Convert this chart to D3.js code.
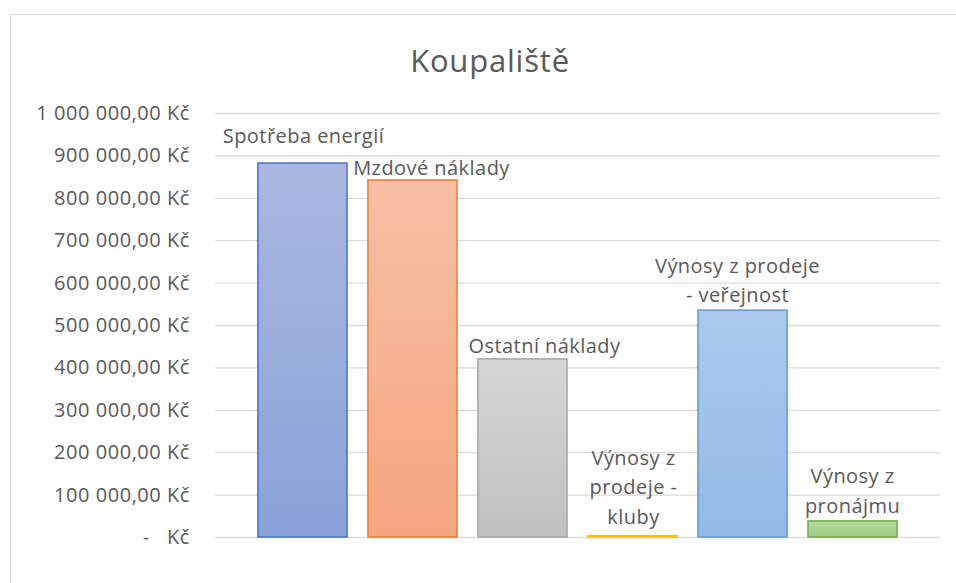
<!DOCTYPE html>
<html>
<head>
<meta charset="utf-8">
<script src="https://cdn.jsdelivr.net/npm/d3@7"></script>
<style>
  body { margin: 0; background: #fff; }
  text { font-family: "Open Sans", sans-serif; fill: #595959; }
</style>
</head>
<body>
<div id="chart"></div>
<script>
var width = 956,
    height = 583,
    margin = {top: 113, bottom: 46, left: 215, right: 16};

var categories = ["Spotřeba energií", "Mzdové náklady", "Ostatní náklady",
                  "Výnosy z prodeje - kluby", "Výnosy z prodeje - veřejnost", "Výnosy z pronájmu"];
var values = [882000, 842000, 420000, 3000, 535000, 38000];
var yTicks = [0, 100000, 200000, 300000, 400000, 500000, 600000, 700000, 800000, 900000, 1000000];

// excel-like gradient fills: [top, bottom, border]
var colors = [
  ["#aab8e1", "#8aa2d8", "#4472c4"],
  ["#f7bfa6", "#f4a67f", "#ed7d31"],
  ["#d6d6d6", "#c0c0c0", "#a5a5a5"],
  ["#ffd24d", "#ffc000", "#ffc000"],
  ["#abcaed", "#93bae6", "#5b9bd5"],
  ["#b4d89e", "#a2cd86", "#70ad47"]
];

// manual label placement (line breaks, offset from bar top centre)
var labelLayout = [
  {lines: ["Spotřeba energií"], dx: 1, dy: -20},
  {lines: ["Mzdové náklady"], dx: 19, dy: -5},
  {lines: ["Ostatní náklady"], dx: 22, dy: -6},
  {lines: ["Výnosy z", "prodeje -", "kluby"], dx: 1, dy: -12},
  {lines: ["Výnosy z prodeje", "- veřejnost"], dx: -5, dy: -8},
  {lines: ["Výnosy z", "pronájmu"], dx: 0, dy: -8}
];

var svg = d3.select("#chart").append("svg")
    .attr("width", width)
    .attr("height", height);

// chart frame
svg.append("rect")
    .attr("x", 10.5).attr("y", 14.5)
    .attr("width", width).attr("height", height)
    .attr("fill", "none")
    .attr("stroke", "#d9d9d9");

var defs = svg.append("defs");
colors.forEach(function(c, i) {
    var g = defs.append("linearGradient")
        .attr("id", "grad" + i)
        .attr("x1", 0).attr("y1", 0).attr("x2", 0).attr("y2", 1);
    g.append("stop").attr("offset", "0%").attr("stop-color", c[0]);
    g.append("stop").attr("offset", "100%").attr("stop-color", c[1]);
});

var x = d3.scaleBand()
    .domain(categories)
    .range([margin.left, width - margin.right])
    .paddingInner(0.19)
    .paddingOuter(0.39);

var y = d3.scaleLinear()
    .domain([0, 1000000])
    .range([height - margin.bottom, margin.top]);

svg.append("text")
    .attr("x", 490)
    .attr("y", 72)
    .attr("text-anchor", "middle")
    .style("font-size", "31px")
    .style("letter-spacing", "0.8px")
    .text("Koupaliště");

function fmt(v) {
    if (v === 0) return "-\u00a0\u00a0\u00a0Kč";
    return d3.format(",.2f")(v).replace(/,/g, " ").replace(".", ",") + " Kč";
}

var yAxis = svg.append("g")
    .attr("transform", "translate(" + margin.left + ",0)")
    .call(d3.axisLeft(y).tickValues(yTicks).tickFormat(fmt)
        .tickSize(-(width - margin.left - margin.right)).tickPadding(25));
yAxis.select(".domain").remove();
yAxis.selectAll("line").attr("stroke", "#d9d9d9").attr("stroke-width", 1.3);
yAxis.selectAll("text")
    .style("font-size", "20px")
    .style("letter-spacing", "0.55px")
    .style("font-family", "'Open Sans', sans-serif")
    .attr("fill", "#595959");

svg.append("g").selectAll("rect")
    .data(values)
    .enter().append("rect")
    .attr("x", function(d, i) { return x(categories[i]); })
    .attr("y", function(d) { return y(d); })
    .attr("width", x.bandwidth())
    .attr("height", function(d) { return y(0) - y(d); })
    .attr("fill", function(d, i) { return "url(#grad" + i + ")"; })
    .attr("stroke", function(d, i) { return colors[i][2]; })
    .attr("stroke-width", 1.5);

var labels = svg.append("g").selectAll("text")
    .data(values)
    .enter().append("text")
    .attr("text-anchor", "middle")
    .style("font-size", "20px")
    .style("letter-spacing", "0.45px");

labels.each(function(d, i) {
    var L = labelLayout[i],
        cx = x(categories[i]) + x.bandwidth() / 2 + L.dx,
        base = y(d) + L.dy,
        n = L.lines.length;
    d3.select(this).selectAll("tspan")
        .data(L.lines)
        .enter().append("tspan")
        .attr("x", cx)
        .attr("y", function(s, j) { return base - (n - 1 - j) * 29.5; })
        .text(function(s) { return s; });
});
</script>
</body>
</html>
